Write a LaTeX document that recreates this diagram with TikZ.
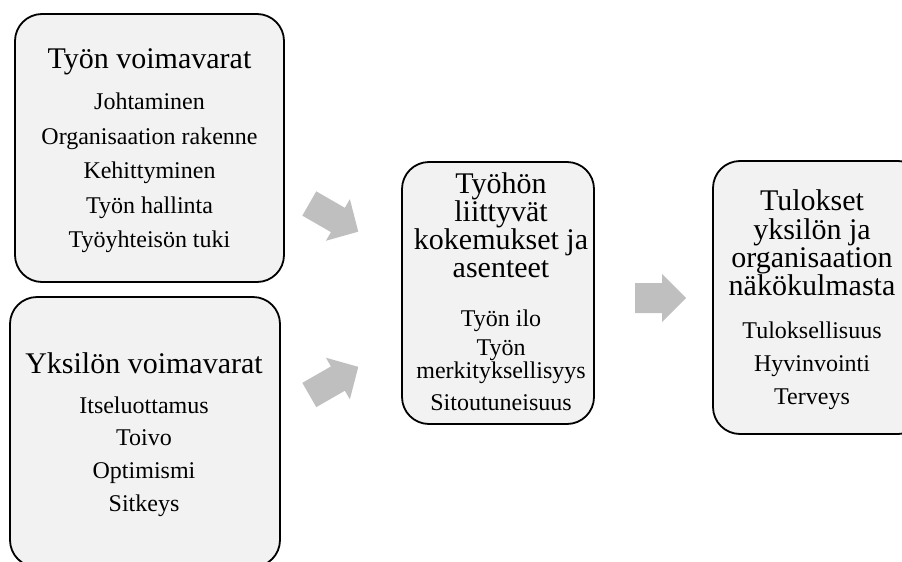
\documentclass[tikz,border=0pt]{standalone}
\usepackage{fontspec}
\setmainfont{Liberation Serif}
\definecolor{boxfill}{HTML}{F2F2F2}
\definecolor{arrowgray}{HTML}{BFBFBF}
\begin{document}
\begin{tikzpicture}[x=1pt,y=-1pt,
  box/.style={draw=black, line width=1.8pt, fill=boxfill, rounded corners=27pt, inner sep=0pt},
  ttl/.style={anchor=base, inner sep=0pt, font=\fontsize{30}{32}\selectfont},
  itm/.style={anchor=base, inner sep=0pt, font=\fontsize{24}{26}\selectfont},
  blk/.style={fill=arrowgray}]
\useasboundingbox (0,0) rectangle (902,562);
\clip (0,0) rectangle (902,562);
% boxes
\node[box, minimum width=269pt, minimum height=268pt] (b1) at (149.5,148) {};
\node[box, minimum width=270pt, minimum height=270pt] (b2) at (145,432) {};
\node[box, minimum width=192pt, minimum height=262pt] (b3) at (498,293) {};
\node[box, minimum width=212pt, minimum height=273pt] (b4) at (819,297.5) {};
% box 1 texts
\node[ttl] (t1) at (149.5,68) {Työn voimavarat};
\node[itm] (t1a) at (149.5,109) {Johtaminen};
\node[itm] (t1b) at (149.5,144) {Organisaation rakenne};
\node[itm] (t1c) at (149.5,178) {Kehittyminen};
\node[itm] (t1d) at (149.5,213) {Työn hallinta};
\node[itm] (t1e) at (149.5,247) {Työyhteisön tuki};
% box 2 texts
\node[ttl] (t2) at (144,373) {Yksilön voimavarat};
\node[itm] (t2a) at (144,413) {Itseluottamus};
\node[itm] (t2b) at (144,445) {Toivo};
\node[itm] (t2c) at (144,478) {Optimismi};
\node[itm] (t2d) at (144,511) {Sitkeys};
% box 3 texts
\node[ttl] (t3a) at (501,193) {Työhön};
\node[ttl] (t3b) at (501,221) {liittyvät};
\node[ttl] (t3c) at (501,249) {kokemukset ja};
\node[ttl] (t3d) at (501,277) {asenteet};
\node[itm] (t3e) at (501,326) {Työn ilo};
\node[itm] (t3f) at (501,355) {Työn};
\node[itm] (t3g) at (501,378) {merkityksellisyys};
\node[itm] (t3h) at (501,410) {Sitoutuneisuus};
% box 4 texts
\node[ttl] (t4a) at (812,210) {Tulokset};
\node[ttl] (t4b) at (812,239) {yksilön ja};
\node[ttl] (t4c) at (812,267) {organisaation};
\node[ttl] (t4d) at (812,295) {näkökulmasta};
\node[itm] (t4e) at (812,338) {Tuloksellisuus};
\node[itm] (t4f) at (812,371) {Hyvinvointi};
\node[itm] (t4g) at (812,404) {Terveys};
% block arrows
\begin{scope}[shift={(309.3,203.5)}, rotate=-29.9]
  \fill[blk] (0,-14) -- (33,-14) -- (33,-24) -- (56.5,0) -- (33,24) -- (33,14) -- (0,14) -- cycle;
\end{scope}
\begin{scope}[shift={(309.3,395)}, rotate=29.9]
  \fill[blk] (0,-14) -- (33,-14) -- (33,-24) -- (56.5,0) -- (33,24) -- (33,14) -- (0,14) -- cycle;
\end{scope}
\begin{scope}[shift={(635,298)}]
  \fill[blk] (0,-15) -- (27,-15) -- (27,-24) -- (51,0) -- (27,24) -- (27,15) -- (0,15) -- cycle;
\end{scope}
\end{tikzpicture}
\end{document}
